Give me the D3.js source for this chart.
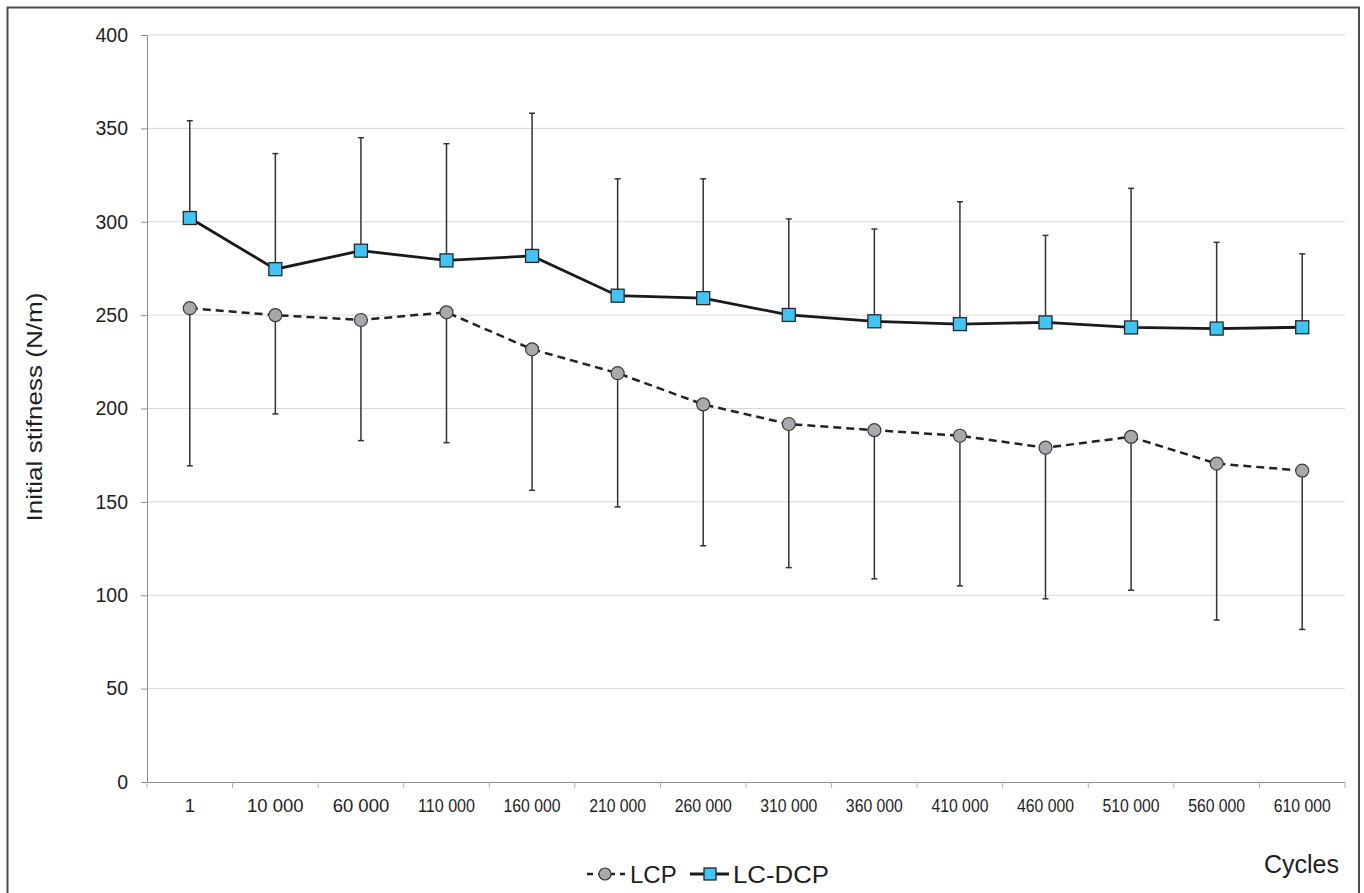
<!DOCTYPE html>
<html>
<head>
<meta charset="utf-8">
<script src="https://cdn.jsdelivr.net/npm/d3@7"></script>
<style>
  html, body { margin: 0; padding: 0; background: #fff; }
  svg { display: block; font-family: "Liberation Sans", Arial, sans-serif; }
</style>
</head>
<body>
<svg id="chart" width="1364" height="893"></svg>
<script>
const categories = ["1","10 000","60 000","110 000","160 000","210 000","260 000","310 000","360 000","410 000","460 000","510 000","560 000","610 000"];
const dcpMean = [302, 274.6, 284.5, 279.3, 281.7, 260.4, 259.1, 250.1, 246.7, 245.2, 246.1, 243.4, 242.8, 243.5];
const dcpHigh = [354.1, 336.5, 345, 341.8, 358.1, 323, 323, 301.5, 296.1, 310.7, 292.7, 317.9, 289, 282.8];
const lcpMean = [253.7, 250, 247.4, 251.5, 231.7, 218.9, 202.2, 191.7, 188.4, 185.4, 179, 184.8, 170.5, 166.7];
const lcpLow = [169.3, 197.1, 182.8, 181.7, 156.2, 147.3, 126.5, 114.8, 108.8, 105, 98.1, 102.7, 86.7, 81.7];
const yTicks = [0, 50, 100, 150, 200, 250, 300, 350, 400];
const seriesNames = ["LCP", "LC-DCP"];
const yTitle = "Initial stifness (N/m)";
const xTitle = "Cycles";

const svg = d3.select("#chart");

// outer frame
svg.append("rect").attr("x", 7.5).attr("y", 7.5).attr("width", 1351.5).attr("height", 900)
  .attr("fill", "none").attr("stroke", "#4d4d4d").attr("stroke-width", 2);

const x = d3.scaleBand().domain(categories).range([147, 1345]).padding(0);
const y = d3.scaleLinear().domain([0, 400]).range([782, 35]);
const cx = c => x(c) + x.bandwidth() / 2;

// gridlines
svg.append("g").selectAll("line").data(yTicks.filter(t => t > 0)).join("line")
  .attr("x1", 147).attr("x2", 1345)
  .attr("y1", d => y(d)).attr("y2", d => y(d))
  .attr("stroke", "#d9d9d9").attr("stroke-width", 1);

// y axis
const yAxis = svg.append("g").attr("transform", "translate(147,0)")
  .call(d3.axisLeft(y).tickValues(yTicks).tickSize(6).tickPadding(13));
yAxis.select(".domain").attr("stroke", "#8c8c8c");
yAxis.selectAll(".tick line").attr("stroke", "#8c8c8c");
yAxis.selectAll(".tick text").attr("font-size", 19.5).attr("fill", "#1e1e1e")
  .attr("font-family", "'Liberation Sans', Arial, sans-serif");

// x axis
const xAxis = svg.append("g").attr("transform", "translate(0,782)")
  .call(d3.axisBottom(x).tickSize(0).tickPadding(17));
xAxis.select(".domain").attr("stroke", "#8c8c8c");
xAxis.selectAll(".tick text").attr("font-size", 18.5).attr("fill", "#1e1e1e")
  .attr("font-family", "'Liberation Sans', Arial, sans-serif")
  .each(function() {
    const w = this.getComputedTextLength();
    if (w > 57) d3.select(this).attr("textLength", 57).attr("lengthAdjust", "spacingAndGlyphs");
  });
// boundary ticks
svg.append("g").selectAll("line").data(categories.map(c => x(c)).concat([x.range()[1]])).join("line")
  .attr("x1", d => d).attr("x2", d => d).attr("y1", 782).attr("y2", 788)
  .attr("stroke", "#b0b0b0").attr("stroke-width", 1);

// error bars
const eb = svg.append("g").attr("stroke", "#333").attr("stroke-width", 1.5);
categories.forEach((c, i) => {
  const px = cx(c);
  eb.append("line").attr("x1", px).attr("x2", px).attr("y1", y(dcpMean[i])).attr("y2", y(dcpHigh[i]));
  eb.append("line").attr("x1", px - 3).attr("x2", px + 3).attr("y1", y(dcpHigh[i])).attr("y2", y(dcpHigh[i]));
  eb.append("line").attr("x1", px).attr("x2", px).attr("y1", y(lcpMean[i])).attr("y2", y(lcpLow[i]));
  eb.append("line").attr("x1", px - 3).attr("x2", px + 3).attr("y1", y(lcpLow[i])).attr("y2", y(lcpLow[i]));
});

// lines
const line = d3.line().x(d => cx(d[0])).y(d => y(d[1]));
svg.append("path").datum(categories.map((c, i) => [c, lcpMean[i]]))
  .attr("d", line).attr("fill", "none").attr("stroke", "#222").attr("stroke-width", 2.5)
  .attr("stroke-dasharray", "8,5");
svg.append("path").datum(categories.map((c, i) => [c, dcpMean[i]]))
  .attr("d", line).attr("fill", "none").attr("stroke", "#1a1a1a").attr("stroke-width", 2.8);

// markers
svg.append("g").selectAll("circle").data(categories).join("circle")
  .attr("cx", c => cx(c)).attr("cy", (c, i) => y(lcpMean[i])).attr("r", 6.5)
  .attr("fill", "#a7a9ac").attr("stroke", "#3a3a3a").attr("stroke-width", 1.2);
svg.append("g").selectAll("rect").data(categories).join("rect")
  .attr("x", c => cx(c) - 6.5).attr("y", (c, i) => y(dcpMean[i]) - 6.5)
  .attr("width", 13).attr("height", 13)
  .attr("fill", "#41c4f1").attr("stroke", "#1f2a30").attr("stroke-width", 1.3);

// y title
svg.append("text").attr("transform", "translate(42,407) rotate(-90)")
  .attr("text-anchor", "middle").attr("font-size", 21.5).attr("fill", "#1e1e1e")
  .attr("textLength", 229).attr("lengthAdjust", "spacingAndGlyphs")
  .text(yTitle);

// x title
svg.append("text").attr("x", 1339).attr("y", 873).attr("text-anchor", "end")
  .attr("font-size", 25).attr("fill", "#1e1e1e").text(xTitle);

// legend
const lg = svg.append("g");
lg.append("line").attr("x1", 587).attr("x2", 625).attr("y1", 874).attr("y2", 874)
  .attr("stroke", "#222").attr("stroke-width", 2.5).attr("stroke-dasharray", "6,5");
lg.append("circle").attr("cx", 605).attr("cy", 874).attr("r", 6)
  .attr("fill", "#a7a9ac").attr("stroke", "#3a3a3a").attr("stroke-width", 1.2);
lg.append("text").attr("x", 630).attr("y", 883).attr("font-size", 24).attr("fill", "#1e1e1e").text(seriesNames[0]);
lg.append("line").attr("x1", 690).attr("x2", 729).attr("y1", 874).attr("y2", 874)
  .attr("stroke", "#1a1a1a").attr("stroke-width", 2.8);
lg.append("rect").attr("x", 704).attr("y", 868).attr("width", 12).attr("height", 12)
  .attr("fill", "#41c4f1").attr("stroke", "#1f2a30").attr("stroke-width", 1.3);
lg.append("text").attr("x", 733).attr("y", 883).attr("font-size", 24).attr("fill", "#1e1e1e")
  .attr("textLength", 96).attr("lengthAdjust", "spacingAndGlyphs").text(seriesNames[1]);
</script>
</body>
</html>
